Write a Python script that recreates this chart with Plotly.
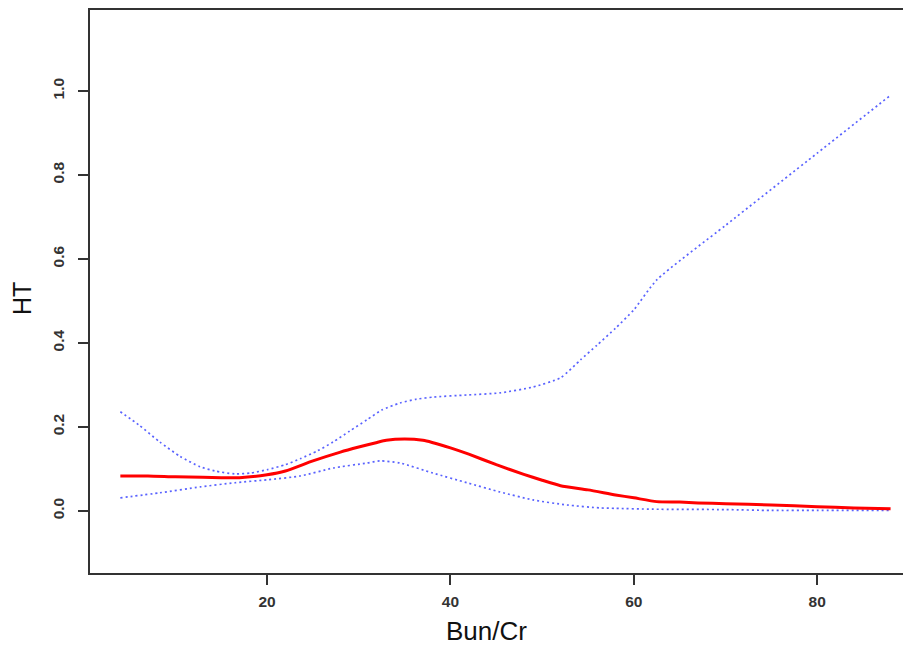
import plotly.graph_objects as go

x_fit = [4, 7, 10, 13, 15, 17, 20, 22, 25, 28, 30, 32, 33, 35, 37, 38, 40, 42, 45, 48, 50, 52, 55, 58, 60, 62.5, 65, 67, 70, 75, 80, 84, 88]
y_fit = [0.083, 0.083, 0.081, 0.080, 0.079, 0.079, 0.086, 0.095, 0.119, 0.140, 0.152, 0.163, 0.168, 0.171, 0.168, 0.163, 0.150, 0.135, 0.110, 0.087, 0.073, 0.060, 0.050, 0.038, 0.031, 0.022, 0.021, 0.019, 0.017, 0.014, 0.010, 0.007, 0.005]

x_up = [4, 6, 8.3, 10.5, 12.7, 14.3, 16.5, 18.2, 20, 22, 23.6, 25.5, 27.2, 29, 30.9, 32.5, 34.5, 36.3, 38.1, 41.8, 45.4, 49, 52, 54.2, 56, 58, 60, 62.5, 70, 80, 88]
y_up = [0.236, 0.205, 0.164, 0.130, 0.105, 0.095, 0.088, 0.090, 0.098, 0.110, 0.124, 0.143, 0.164, 0.190, 0.217, 0.240, 0.257, 0.266, 0.271, 0.276, 0.281, 0.295, 0.317, 0.360, 0.395, 0.435, 0.479, 0.550, 0.680, 0.852, 0.990]

x_lo = [4, 8.3, 12.7, 16.5, 20, 23.6, 27.2, 30.9, 32.3, 34.5, 38.1, 41.8, 45.4, 49, 52.7, 56.3, 58, 62, 70, 75, 80, 88]
y_lo = [0.031, 0.043, 0.057, 0.067, 0.074, 0.083, 0.102, 0.114, 0.119, 0.114, 0.090, 0.067, 0.045, 0.026, 0.014, 0.007, 0.006, 0.004, 0.003, 0.001, 0.001, 0.001]

x_ticks = [20, 40, 60, 80]
y_ticks = [0.0, 0.2, 0.4, 0.6, 0.8, 1.0]

x_title = "Bun/Cr"
y_title = "HT"

FONT = "Liberation Sans, Arial, Helvetica"
BLUE = "rgba(60,70,255,0.85)"

fig = go.Figure()
fig.add_trace(go.Scatter(x=x_up, y=y_up, mode="lines", line=dict(color=BLUE, width=1.7, dash="2px,3px", shape="spline", smoothing=0.6), hoverinfo="skip"))
fig.add_trace(go.Scatter(x=x_lo, y=y_lo, mode="lines", line=dict(color=BLUE, width=1.7, dash="2px,3px", shape="spline", smoothing=0.6), hoverinfo="skip"))
fig.add_trace(go.Scatter(x=x_fit, y=y_fit, mode="lines", line=dict(color="#ff0000", width=3, shape="spline", smoothing=0.6), hoverinfo="skip"))

tickfont = dict(family=FONT, size=15.5, color="#333333", weight="bold")
axis_common = dict(showgrid=False, zeroline=False, showline=True, linecolor="#333333", linewidth=1.5,
                   ticks="outside", ticklen=10, tickwidth=1.5, tickcolor="#333333", mirror=True,
                   tickfont=tickfont, automargin=False)

# page body has an 8px default margin, so the figure is sized/offset to compensate
fig.update_layout(
    width=903, height=638,
    margin=dict(l=82, r=3, t=2, b=73),
    paper_bgcolor="white", plot_bgcolor="white",
    showlegend=False,
    xaxis=dict(range=[0.69, 89.9], tickvals=x_ticks, ticktext=[str(v) for v in x_ticks],
               ticklabelstandoff=4, **axis_common),
    yaxis=dict(range=[-0.148, 1.193], tickvals=y_ticks, ticktext=[f"{v:.1f}" for v in y_ticks], tickangle=-90,
               ticklabelstandoff=8, **axis_common),
    annotations=[
        dict(text=x_title, xref="paper", yref="paper", x=0.4847, y=-0.1030, xanchor="center", yanchor="middle",
             showarrow=False, font=dict(family=FONT, size=26, color="#111111")),
        dict(text=y_title, xref="paper", yref="paper", x=-0.0831, y=0.4867, xanchor="center", yanchor="middle",
             textangle=-90, showarrow=False, font=dict(family=FONT, size=25, color="#111111")),
    ],
)

fig.write_html("out.html")
